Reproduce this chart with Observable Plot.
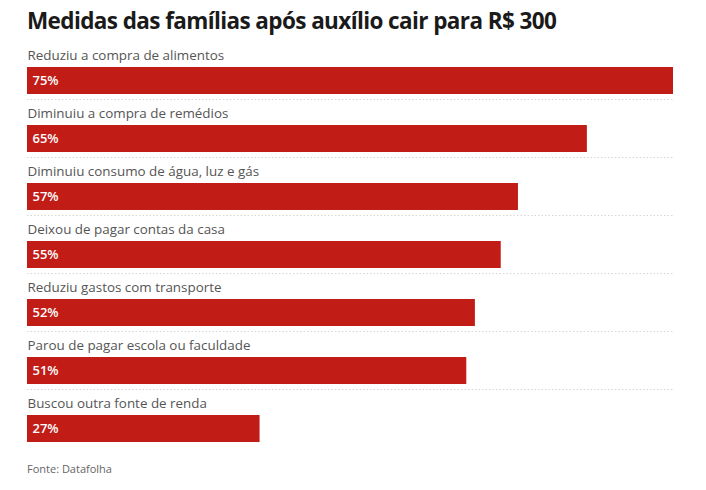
<!DOCTYPE html>
<html>
<head>
<meta charset="utf-8">
<script src="https://cdn.jsdelivr.net/npm/d3@7"></script>
<script src="https://cdn.jsdelivr.net/npm/@observablehq/plot@0.6"></script>
<style>
  body { margin: 0; background: #fff; font-family: "Open Sans", sans-serif; }
  #title { position: relative; height: 41px; padding-left: 27px; box-sizing: border-box; padding-top: 7px;
           font-size: 22.5px; font-weight: 700; color: #1a1a1a; letter-spacing: -0.6px; line-height: 28px; }
  #caption { padding-left: 27px; font-size: 11px; color: #666; margin-top: 10px; }
</style>
</head>
<body>
<div id="title">Medidas das famílias após auxílio cair para R$ 300</div>
<div id="chart"></div>
<div id="caption">Fonte: Datafolha</div>
<script>
const categories = [
  "Reduziu a compra de alimentos",
  "Diminuiu a compra de remédios",
  "Diminuiu consumo de água, luz e gás",
  "Deixou de pagar contas da casa",
  "Reduziu gastos com transporte",
  "Parou de pagar escola ou faculdade",
  "Buscou outra fonte de renda"
];
const values = [75, 65, 57, 55, 52, 51, 27];
const valueLabels = ["75%", "65%", "57%", "55%", "52%", "51%", "27%"];

const data = categories.map((c, i) => ({label: c, value: values[i], text: valueLabels[i]}));
const separators = categories.slice(0, categories.length - 1);

const chart = Plot.plot({
  width: 706,
  height: 410,
  marginLeft: 27,
  marginRight: 33,
  marginTop: 0,
  marginBottom: 4,
  x: {domain: [0, 75], axis: null},
  y: {domain: categories, axis: null, padding: 0},
  style: {fontFamily: "'Open Sans', sans-serif", background: "#fff"},
  marks: [
    Plot.ruleY(separators, {y: d => d, x1: 0, x2: 75, dy: 29, stroke: "#d6d6d6", strokeDasharray: "1.5,2", strokeWidth: 1}),
    Plot.barX(data, {y: "label", x: "value", fill: "#c21c17", insetTop: 26, insetBottom: 5}),
    Plot.text(data, {y: "label", x: 0, text: "label", textAnchor: "start", dy: -15, fontSize: 13.4, fill: "#555"}),
    Plot.text(data, {y: "label", x: 0, text: "text", textAnchor: "start", dx: 5, dy: 10.5, fontSize: 13, fontWeight: 600, fill: "#fff"})
  ]
});
document.getElementById("chart").append(chart);
</script>
</body>
</html>
